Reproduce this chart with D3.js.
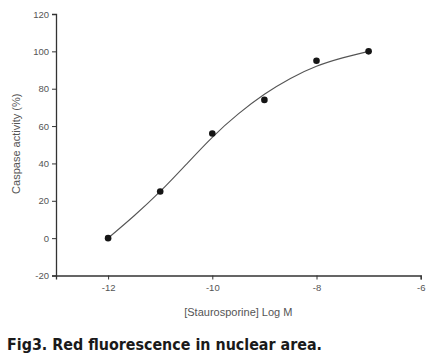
<!DOCTYPE html>
<html><head><meta charset="utf-8">
<script src="https://cdn.jsdelivr.net/npm/d3@7"></script>
<style>
html,body{margin:0;padding:0;background:#fff;}
svg{display:block;}
</style></head>
<body>
<svg id="c" width="435" height="357"></svg>
<script>
// Data
const logConc = [-12, -11, -10, -9, -8, -7];
const activity = [0, 25, 56, 74, 95, 100];
// Fitted curve
const fitX = [-12, -11.5, -11, -10.5, -10, -9.5, -9, -8.5, -8, -7.5, -7];
const fitY = [0, 12, 25, 39.5, 54, 66.5, 77, 85.5, 92, 96.5, 100];
const xTicks = [-12, -10, -8, -6];
const yTicks = [-20, 0, 20, 40, 60, 80, 100, 120];
const xTitle = "[Staurosporine] Log M";
const yTitle = "Caspase activity (%)";
const caption = "Fig3. Red fluorescence in nuclear area.";

const svg = d3.select("#c");
const x = d3.scaleLinear().domain([-13, -6]).range([56, 420.7]);
const y = d3.scaleLinear().domain([-20, 120]).range([275.5, 14]);

const axisColor = "#333", textColor = "#555";

const gx = svg.append("g").attr("transform", `translate(0,${y(-20)})`)
  .call(d3.axisBottom(x).tickValues(xTicks).tickSize(4).tickPadding(5).tickFormat(d3.format("d")));
const gy = svg.append("g").attr("transform", `translate(${x(-13)},0)`)
  .call(d3.axisLeft(y).tickValues(yTicks).tickSize(4).tickPadding(3).tickFormat(d3.format("d")));
[gx, gy].forEach(g => {
  g.select(".domain").attr("stroke", axisColor).attr("stroke-width", 1.3);
  g.selectAll(".tick line").attr("stroke", axisColor).attr("stroke-width", 1);
  g.selectAll(".tick text").attr("fill", textColor)
    .style("font-family", "'Liberation Sans', Arial, sans-serif").style("font-size", "9.5px");
});
gx.selectAll(".tick text").text(d => d < 0 ? "-" + Math.abs(d) : d);
gy.selectAll(".tick text").text(d => d < 0 ? "-" + Math.abs(d) : d);

// Curve
const line = d3.line().x(d => x(d[0])).y(d => y(d[1])).curve(d3.curveNatural);
svg.append("path").datum(fitX.map((v, i) => [v, fitY[i]]))
  .attr("d", line).attr("fill", "none").attr("stroke", "#555").attr("stroke-width", 1.1);

// Points
svg.append("g").selectAll("circle").data(logConc).join("circle")
  .attr("cx", d => x(d)).attr("cy", (d, i) => y(activity[i])).attr("r", 3.3)
  .attr("fill", "#151515");

// Titles
svg.append("text").attr("x", (x(-13) + x(-6)) / 2).attr("y", 315.5)
  .attr("text-anchor", "middle").attr("fill", textColor)
  .style("font-family", "'Liberation Sans', Arial, sans-serif").style("font-size", "11px")
  .text(xTitle);
svg.append("text").attr("transform", `translate(19.5,${(y(-20) + y(120)) / 2 - 1}) rotate(-90)`)
  .attr("text-anchor", "middle").attr("fill", textColor)
  .style("font-family", "'Liberation Sans', Arial, sans-serif").style("font-size", "11px")
  .text(yTitle);

// Caption
svg.append("text").attr("x", 7).attr("y", 349.5)
  .attr("fill", "#1a1a1a")
  .attr("textLength", 315).attr("lengthAdjust", "spacingAndGlyphs")
  .style("font-family", "'DejaVu Sans', sans-serif").style("font-weight", "900").style("font-size", "15px")
  .text(caption);
</script>
</body></html>
